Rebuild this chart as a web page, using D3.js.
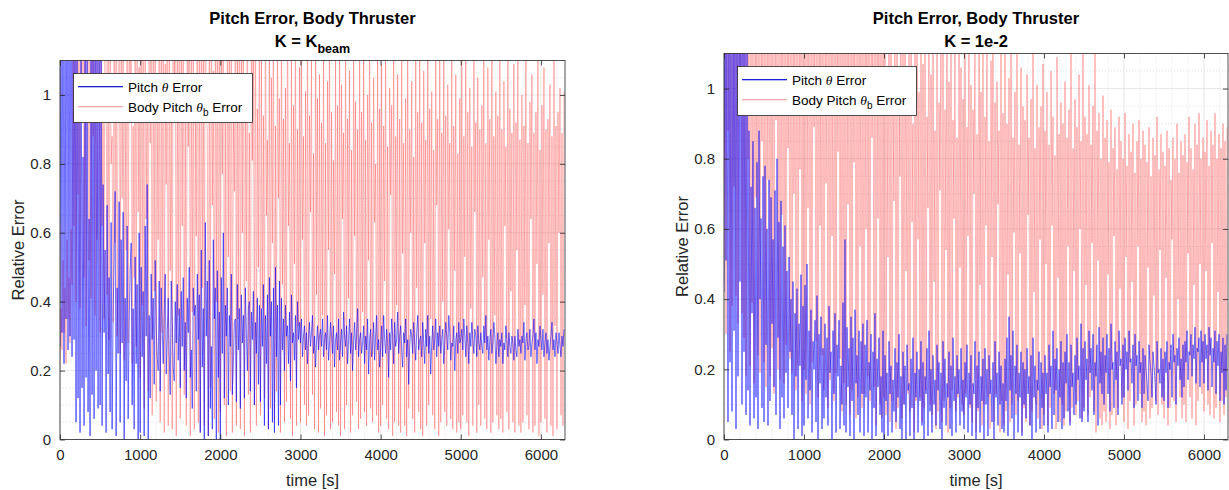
<!DOCTYPE html>
<html><head><meta charset="utf-8">
<script src="https://cdn.jsdelivr.net/npm/d3@7/dist/d3.min.js"></script>
<style>
body{margin:0;background:#fff;}
svg{display:block;font-family:"Liberation Sans",Arial,Helvetica,sans-serif;}
</style>
</head><body>
<svg id="chart" width="1229" height="490"></svg>
<script>
// ---------------- data ----------------
const timeStart = 0;      // s
const timeStep = 12.5;    // s, sampling of the series below
const xDomain = [0, 6300];
const yDomain = [0, 1.1];
const xTicks = [0, 1000, 2000, 3000, 4000, 5000, 6000];
const yTicks = [0, 0.2, 0.4, 0.6, 0.8, 1];
const yTickLabels = ["0", "0.2", "0.4", "0.6", "0.8", "1"];
const titleLine1 = "Pitch Error, Body Thruster";
const xLabel = "time [s]";
const yLabel = "Relative Error";

// K = K_beam
const pitchErrKbeam = [
.27,1.45,.31,1.62,.22,1.38,.35,1.80,.26,1.51,.30,1.70,.24,1.33,.29,1.58,.05,1.42,.12,0.95,
.02,1.36,.15,0.82,.04,1.55,.18,1.24,.08,0.64,.01,1.47,.13,1.30,.06,1.66,.20,1.18,.09,1.52,
.10,1.25,.04,0.74,.31,0.55,.02,0.68,.19,0.47,.08,0.63,.03,0.36,.52,0.72,.01,0.44,.25,0.69,
.05,0.58,.28,0.66,.00,0.41,.17,0.62,.06,0.33,.49,0.57,.10,0.38,.03,0.53,.22,0.45,.00,0.60,
.02,0.50,.24,0.43,.01,0.62,.30,0.74,.00,0.36,.12,0.48,.29,0.41,.16,0.52,.33,0.24,.20,0.46,
.14,0.44,.32,0.22,.37,0.48,.19,0.30,.41,0.25,.13,0.46,.35,0.21,.17,0.40,.28,0.45,.23,0.38,
.15,0.43,.27,0.47,.20,0.34,.12,0.41,.31,0.50,.18,0.26,.09,0.44,.36,0.39,.14,0.48,.29,0.42,
.02,0.55,.21,0.38,.00,0.63,.30,0.46,.01,0.52,.09,0.27,.03,0.58,.35,0.44,.00,0.49,.18,0.37,
.00,0.47,.25,0.60,.12,0.39,.30,0.44,.10,0.36,.27,0.48,.13,0.22,.34,0.35,.11,0.45,.26,0.38,
.09,0.42,.28,0.36,.12,0.44,.31,0.20,.38,0.40,.14,0.37,.29,0.43,.10,0.34,.25,0.41,.16,0.39,
.11,0.38,.27,0.45,.04,0.36,.22,0.42,.03,0.47,.30,0.40,.05,0.44,.02,0.50,.24,0.39,.04,0.46,
.10,0.41,.26,0.35,.20,0.39,.30,0.33,.22,0.37,.17,0.42,.28,0.31,.23,0.36,.15,0.40,.29,0.34,
.28,0.35,.24,0.30,.33,0.26,.31,0.22,.29,0.34,.27,0.31,.36,0.25,.30,0.21,.28,0.33,.26,0.30,
.32,0.27,.35,0.24,.29,0.31,.26,0.36,.23,0.28,.34,0.30,.25,0.33,.21,0.29,.31,0.26,.35,0.23,
.28,0.32,.24,0.37,.30,0.27,.33,0.22,.29,0.35,.25,0.31,.20,0.28,.34,0.26,.30,0.38,.24,0.29,
.31,0.25,.28,0.33,.22,0.30,.26,0.35,.19,0.29,.32,0.24,.27,0.34,.23,0.30,.36,0.26,.29,0.21,
.27,0.33,.24,0.36,.29,0.25,.32,0.28,.18,0.31,.26,0.35,.30,0.22,.34,0.27,.29,0.37,.25,0.30,
.33,0.26,.21,0.31,.28,0.35,.24,0.29,.16,0.27,.32,0.30,.25,0.34,.28,0.23,.31,0.36,.26,0.29,
.30,0.24,.34,0.28,.22,0.32,.27,0.36,.25,0.30,.19,0.28,.33,0.26,.29,0.35,.24,0.31,.27,0.33,
.25,0.29,.32,0.22,.28,0.34,.30,0.26,.36,0.31,.23,0.28,.27,0.33,.20,0.29,.31,0.25,.34,0.28,
.29,0.32,.26,0.35,.30,0.24,.33,0.28,.22,0.31,.27,0.34,.29,0.25,.32,0.30,.24,0.33,.28,0.26,
.31,0.27,.25,0.33,.28,0.36,.26,0.30,.23,0.29,.32,0.25,.28,0.34,.30,0.22,.27,0.31,.24,0.29,
.27,0.31,.22,0.28,.26,0.33,.29,0.24,.31,0.27,.25,0.30,.28,0.23,.30,0.26,.24,0.32,.27,0.29,
.25,0.30,.28,0.34,.23,0.29,.31,0.26,.27,0.32,.24,0.28,.30,0.35,.26,0.31,.22,0.29,.27,0.33,
.29,0.26,.32,0.24,.28,0.31,.25,0.29,.23,0.27,.30,0.34,.26,0.29,.24,0.31,.28,0.25,.31,0.27,
.24,0.30,.27,0.32];

const bodyErrKbeam = [
.20,.38,.26,.52,.31,.44,.22,.58,.35,.47,.28,.61,.45,1.32,.62,1.18,.40,1.55,.71,1.26,
.38,1.44,.95,1.61,.47,1.12,.33,0.97,1.20,.52,1.58,.41,1.26,.88,1.39,.36,1.65,.58,1.03,1.47,
.31,1.28,.62,0.93,.35,1.51,1.10,.42,1.16,.29,1.36,.80,0.88,.34,1.42,.57,1.20,.30,1.02,1.57,
.25,1.31,.70,1.14,.23,0.96,.55,1.49,.28,1.25,.92,1.38,.22,0.91,.47,1.19,.27,1.53,.66,1.08,
.18,1.41,.39,1.23,.09,1.35,.64,0.98,.14,1.60,.86,1.17,.07,1.29,.43,1.44,.11,0.94,.58,1.33,
.05,1.27,.31,1.52,.02,1.09,.74,1.36,.04,1.21,.49,0.92,.03,1.46,1.02,1.30,.01,1.18,.36,1.63,
.06,1.25,.62,1.40,.13,0.99,.04,1.34,.85,1.55,.01,1.12,.37,1.28,.03,0.95,.59,1.43,.05,1.20,
.02,1.37,.44,1.16,.04,1.50,.93,0.90,.01,1.29,.15,1.42,.68,1.07,.06,1.33,.40,1.24,.02,1.58,
.08,1.19,.77,1.45,.10,0.97,.01,1.31,.53,1.26,.14,1.54,.02,0.93,.72,1.38,.04,1.15,.35,1.48,
.03,1.22,.60,1.35,.01,1.04,.46,1.41,.13,0.89,.02,1.28,.81,1.17,.10,1.52,.04,0.96,.50,1.32,
.07,1.13,.38,0.94,.12,1.36,.65,0.87,.03,1.21,.09,1.05,.57,1.30,.06,0.91,.14,1.18,.70,0.99,
.02,1.24,.45,0.93,.05,1.02,.11,1.33,.62,0.86,.06,1.15,.01,0.97,.51,1.27,.04,0.90,.33,1.08,
.05,1.19,.58,0.88,.10,1.01,.04,1.31,.07,0.94,.66,1.12,.13,0.83,.03,1.22,.42,0.99,.02,1.06,
.09,0.92,.36,1.17,.01,0.86,.07,1.04,.55,1.26,.03,0.95,.05,0.81,.48,1.13,.08,0.97,.04,1.20,
.01,1.03,.64,0.89,.03,1.28,.10,0.93,.41,1.07,.02,0.84,.07,1.16,.59,0.98,.11,0.90,.03,1.23,
.06,0.95,.37,1.11,.08,0.87,.04,1.00,.52,1.25,.09,0.92,.05,1.05,.63,0.80,.07,1.14,.02,0.96,
.04,1.09,.10,0.91,.46,1.19,.06,0.85,.03,1.02,.71,0.97,.01,1.27,.05,0.88,.39,1.06,.04,0.93,
.02,1.15,.54,0.86,.04,0.99,.01,1.21,.09,0.90,.60,1.04,.06,0.82,.02,1.12,.44,0.95,.08,1.18,
.03,0.92,.01,1.07,.57,0.87,.04,1.24,.10,0.96,.35,1.01,.07,0.84,.03,1.10,.68,0.93,.01,1.16,
.05,0.89,.40,1.13,.08,0.94,.04,1.03,.61,0.86,.06,1.20,.03,0.91,.49,1.06,.02,0.83,.05,0.99,
.03,1.11,.07,0.88,.53,1.17,.05,0.95,.01,1.02,.38,0.85,.04,1.22,.66,0.92,.02,1.05,.10,0.90,
.04,0.97,.47,1.14,.06,0.86,.03,1.08,.58,0.93,.02,1.19,.05,0.88,.36,1.01,.07,0.94,.03,1.12,
.06,0.90,.02,1.04,.62,0.85,.08,1.16,.03,0.96,.43,0.89,.05,1.09,.02,0.92,.55,1.13,.04,0.87,
.02,1.00,.05,0.91,.39,1.18,.07,0.86,.03,0.98,.64,1.06,.02,0.89,.04,0.95,.51,1.11,.01,0.84,
.05,0.97,.42,1.08,.06,0.90,.02,0.93,.57,1.03,.04,0.88,.01,1.12,.33,0.91,.03,0.95,.60,1.02,
.07,0.89,.04,1.01];

// K = 1e-2
const pitchErrK1e2 = [
.42,1.50,.51,1.38,.05,1.66,.22,1.29,.08,1.55,.31,1.44,.03,1.72,.18,1.35,.45,1.60,.10,1.48,
.25,1.33,.07,1.21,.14,0.88,.04,0.72,.36,0.85,.06,0.66,.12,0.79,.03,0.88,.40,0.63,.09,0.75,
.05,0.78,.27,0.60,.04,0.74,.11,0.69,.33,0.57,.15,0.71,.07,0.80,.29,0.62,.03,0.68,.12,0.55,
.06,0.61,.19,0.48,.09,0.52,.25,0.40,.07,0.45,.00,0.36,.18,0.43,.03,0.33,.21,0.47,.01,0.38,
.04,0.44,.17,0.50,.06,0.31,.14,0.37,.02,0.28,.20,0.34,.05,0.41,.00,0.30,.16,0.35,.03,0.26,
.06,0.33,.12,0.29,.04,0.38,.19,0.25,.00,0.31,.13,0.36,.02,0.27,.18,0.34,.03,0.21,.10,0.39,
.04,0.57,.02,0.32,.15,0.26,.01,0.35,.11,0.29,.00,0.37,.16,0.24,.07,0.31,.02,0.28,.13,0.33,
.01,0.27,.12,0.34,.02,0.22,.14,0.30,.00,0.25,.09,0.36,.01,0.23,.15,0.29,.07,0.18,.02,0.31,
.00,0.24,.11,0.19,.01,0.28,.13,0.21,.02,0.17,.08,0.26,.05,0.22,.12,0.30,.03,0.18,.00,0.25,
.10,0.21,.00,0.27,.14,0.16,.01,0.23,.09,0.29,.00,0.19,.12,0.25,.02,0.20,.11,0.28,.04,0.22,
.00,0.18,.13,0.26,.01,0.31,.08,0.20,.02,0.24,.10,0.17,.04,0.27,.14,0.22,.03,0.19,.00,0.28,
.09,0.23,.04,0.16,.12,0.25,.03,0.21,.01,0.29,.11,0.18,.02,0.24,.13,0.20,.04,0.26,.08,0.17,
.03,0.22,.12,0.27,.02,0.19,.10,0.24,.01,0.16,.13,0.28,.00,0.21,.09,0.25,.02,0.18,.11,0.23,
.00,0.26,.10,0.20,.01,0.24,.13,0.17,.05,0.22,.00,0.28,.12,0.19,.04,0.25,.10,0.21,.03,0.16,
.02,0.23,.11,0.29,.01,0.35,.14,0.24,.06,0.31,.00,0.21,.13,0.27,.02,0.19,.12,0.25,.01,0.22,
.10,0.20,.06,0.26,.13,0.18,.04,0.24,.00,0.29,.12,0.21,.02,0.17,.14,0.25,.03,0.22,.09,0.19,
.04,0.24,.13,0.19,.02,0.27,.15,0.21,.03,0.31,.07,0.23,.14,0.26,.05,0.20,.12,0.28,.03,0.22,
.06,0.25,.16,0.30,.08,0.22,.04,0.27,.15,0.19,.07,0.24,.10,0.29,.17,0.21,.06,0.33,.05,0.26,
.08,0.28,.17,0.23,.05,0.31,.19,0.26,.14,0.30,.07,0.22,.18,0.27,.04,0.32,.16,0.25,.13,0.29,
.10,0.24,.19,0.30,.13,0.26,.08,0.33,.20,0.22,.09,0.28,.17,0.25,.07,0.31,.21,0.23,.10,0.27,
.12,0.29,.20,0.25,.14,0.31,.22,0.23,.16,0.27,.09,0.30,.21,0.24,.11,0.28,.19,0.22,.09,0.26,
.13,0.24,.20,0.16,.11,0.27,.22,0.19,.12,0.25,.21,0.17,.10,0.28,.19,0.20,.16,0.26,.12,0.23,
.11,0.25,.19,0.28,.09,0.22,.20,0.27,.12,0.30,.22,0.24,.10,0.26,.21,0.29,.17,0.23,.12,0.27,
.15,0.28,.22,0.31,.17,0.25,.24,0.30,.18,0.27,.23,0.32,.16,0.26,.25,0.29,.15,0.31,.22,0.28,
.16,0.30,.23,0.27,.14,0.32,.24,0.29,.15,0.26,.22,0.31,.13,0.28,.21,0.30,.11,0.25,.19,0.29,
.10,0.27,.14,0.30];

const bodyErrK1e2 = [
.45,1.40,.30,1.55,.88,1.28,.25,1.66,.38,1.35,.72,1.50,.41,1.72,.33,1.31,.95,1.46,.36,1.60,
.29,1.37,.18,1.52,.80,1.25,.21,1.63,.39,1.19,.16,1.44,.69,1.30,.24,1.58,.19,1.26,.85,1.41,
.22,1.48,.15,1.21,.74,1.57,.18,1.34,.26,1.15,.13,1.43,.91,1.62,.20,1.27,.17,1.39,.64,1.53,
.16,1.32,.27,1.45,.83,1.20,.23,1.56,.19,1.29,.70,1.37,.14,1.61,.21,1.24,.77,1.50,.11,1.33,
.20,1.42,.13,1.18,.66,1.55,.10,1.31,.22,1.46,.89,1.23,.28,1.38,.12,1.60,.61,1.27,.24,1.49,
.14,1.35,.73,1.22,.09,1.51,.17,1.40,.58,1.16,.11,1.44,.19,1.29,.82,1.58,.23,1.25,.08,1.36,
.16,1.47,.10,1.20,.67,1.34,.07,1.53,.14,1.28,.79,1.41,.06,1.17,.12,1.49,.55,1.32,.09,1.24,
.13,1.38,.60,1.55,.18,1.26,.11,1.43,.86,1.21,.15,1.60,.04,1.30,.63,1.45,.10,1.19,.06,1.37,
.12,1.29,.07,0.98,.52,1.42,.05,1.15,.11,0.93,.68,1.36,.03,1.22,.09,1.03,.75,1.48,.06,1.12,
.10,1.33,.48,0.95,.13,1.25,.08,1.41,.62,0.90,.02,1.18,.11,1.37,.57,0.99,.12,1.28,.05,1.07,
.09,1.20,.14,0.92,.66,1.39,.10,1.04,.07,1.26,.45,0.88,.03,1.31,.08,0.96,.71,1.16,.05,1.35,
.11,0.94,.54,1.24,.02,1.02,.09,1.40,.14,0.91,.63,1.17,.08,0.86,.12,1.29,.49,1.06,.10,0.97,
.07,1.22,.13,0.89,.58,1.33,.09,1.01,.05,0.94,.70,1.19,.02,0.87,.08,1.27,.44,0.99,.04,1.13,
.10,0.92,.61,1.21,.12,0.85,.03,1.08,.52,1.30,.05,0.96,.13,1.02,.67,0.88,.02,1.25,.11,0.93,
.04,1.16,.08,0.90,.47,1.03,.05,1.23,.10,0.86,.59,0.99,.07,1.14,.11,0.84,.53,1.06,.02,0.95,
.09,0.91,.05,1.04,.64,0.86,.04,0.97,.08,1.12,.42,0.83,.10,1.01,.06,0.89,.57,0.95,.03,1.07,
.07,0.88,.50,0.99,.04,0.84,.09,1.05,.61,0.92,.13,0.81,.03,1.09,.46,0.87,.05,0.96,.10,0.90,
.04,1.02,.08,0.86,.55,0.94,.05,1.13,.09,0.83,.48,0.97,.07,0.89,.11,1.04,.60,0.85,.06,1.18,
.09,0.92,.44,0.87,.07,1.01,.12,0.84,.56,0.95,.08,1.15,.02,0.88,.51,0.93,.06,0.80,.04,0.98,
.08,0.86,.05,0.91,.47,0.79,.03,0.94,.07,0.83,.58,0.89,.04,0.77,.09,0.92,.43,0.85,.12,0.80,
.05,0.93,.52,0.78,.03,0.87,.11,0.82,.45,0.90,.04,0.76,.10,0.85,.55,0.91,.13,0.80,.05,0.88,
.08,0.84,.04,0.79,.49,0.89,.06,0.75,.09,0.86,.41,0.81,.11,0.92,.07,0.77,.54,0.87,.10,0.82,
.06,0.78,.46,0.88,.04,0.83,.09,0.74,.57,0.86,.11,0.80,.05,0.90,.40,0.76,.12,0.85,.06,0.81,
.10,0.87,.05,0.79,.53,0.92,.12,0.83,.06,0.77,.44,0.90,.04,0.84,.11,0.93,.50,0.80,.13,0.86,
.08,0.82,.48,0.91,.10,0.78,.07,0.88,.56,0.84,.06,0.93,.09,0.80,.42,0.87,.05,0.83,.11,0.90,
.07,0.85,.12,0.89];

// ---------------- drawing ----------------
const svg = d3.select("#chart");
const INK = "#262626";
const BLUE = "rgba(0,0,255,0.62)";
const RED = "rgba(255,0,0,0.30)";

const panels = [
  {id: "L", left: 60, right: 565, top: 60.5, bottom: 439.5, sub: "K = K", subScript: "beam",
   pitch: pitchErrKbeam, body: bodyErrKbeam},
  {id: "R", left: 724, right: 1228, top: 53.5, bottom: 439.5, sub: "K = 1e-2", subScript: null,
   pitch: pitchErrK1e2, body: bodyErrK1e2}
];

panels.forEach(p => {
  const x = d3.scaleLinear().domain(xDomain).range([p.left, p.right]);
  const y = d3.scaleLinear().domain(yDomain).range([p.bottom, p.top]);
  const g = svg.append("g");

  svg.append("clipPath").attr("id", "clip" + p.id)
    .append("rect").attr("x", p.left).attr("y", p.top)
    .attr("width", p.right - p.left).attr("height", p.bottom - p.top);

  // minor grid
  const minorX = d3.range(0, xDomain[1] + 1, 200).filter(v => v % 1000 !== 0);
  const minorY = d3.range(0, 23).map(i => i * 0.05).filter(v => Math.abs(v / 0.2 - Math.round(v / 0.2)) > 1e-6);
  g.selectAll(null).data(minorX).enter().append("line")
    .attr("x1", d => x(d)).attr("x2", d => x(d)).attr("y1", p.top).attr("y2", p.bottom)
    .attr("stroke", "#cfcfcf").attr("stroke-width", 0.6).attr("stroke-dasharray", "1,2");
  g.selectAll(null).data(minorY).enter().append("line")
    .attr("x1", p.left).attr("x2", p.right).attr("y1", d => y(d)).attr("y2", d => y(d))
    .attr("stroke", "#cfcfcf").attr("stroke-width", 0.6).attr("stroke-dasharray", "1,2");
  // major grid
  g.selectAll(null).data(xTicks).enter().append("line")
    .attr("x1", d => x(d)).attr("x2", d => x(d)).attr("y1", p.top).attr("y2", p.bottom)
    .attr("stroke", "#dedede").attr("stroke-width", 0.7);
  g.selectAll(null).data(yTicks).enter().append("line")
    .attr("x1", p.left).attr("x2", p.right).attr("y1", d => y(d)).attr("y2", d => y(d))
    .attr("stroke", "#dedede").attr("stroke-width", 0.7);

  // data
  const line = d3.line().x((d, i) => x(timeStart + i * timeStep)).y(d => y(d));
  const dg = g.append("g").attr("clip-path", `url(#clip${p.id})`);
  dg.append("path").datum(p.body).attr("d", line)
    .attr("fill", "none").attr("stroke", RED).attr("stroke-width", 0.9);
  dg.append("path").datum(p.pitch).attr("d", line)
    .attr("fill", "none").attr("stroke", BLUE).attr("stroke-width", 0.9);

  // box
  g.append("rect").attr("x", p.left).attr("y", p.top)
    .attr("width", p.right - p.left).attr("height", p.bottom - p.top)
    .attr("fill", "none").attr("stroke", INK).attr("stroke-width", 0.8);

  // axes (ticks inside)
  const xAxis = d3.axisBottom(x).tickValues(xTicks).tickSize(-5).tickPadding(10).tickFormat(d3.format("d"));
  const xa = g.append("g").attr("transform", `translate(0,${p.bottom})`).call(xAxis);
  const xTop = d3.axisTop(x).tickValues(xTicks).tickSize(-5).tickFormat("");
  const xt = g.append("g").attr("transform", `translate(0,${p.top})`).call(xTop);
  const yAxis = d3.axisLeft(y).tickValues(yTicks).tickSize(-5).tickPadding(9)
    .tickFormat((d, i) => yTickLabels[i]);
  const ya = g.append("g").attr("transform", `translate(${p.left},0)`).call(yAxis);
  const yRight = d3.axisRight(y).tickValues(yTicks).tickSize(-5).tickFormat("");
  const yr = g.append("g").attr("transform", `translate(${p.right},0)`).call(yRight);
  [xa, xt, ya, yr].forEach(a => {
    a.select(".domain").remove();
    a.selectAll(".tick line").attr("stroke", INK).attr("stroke-width", 0.8);
    a.selectAll(".tick text").attr("fill", INK).style("font-size", "15px")
      .style("font-family", '"Liberation Sans",Arial,sans-serif');
  });

  // axis labels
  const cx = (p.left + p.right) / 2;
  g.append("text").attr("x", cx).attr("y", 486).attr("text-anchor", "middle")
    .attr("fill", INK).style("font-size", "16.5px").text(xLabel);
  g.append("text").attr("transform", `translate(${p.left - 36},${(p.top + p.bottom) / 2}) rotate(-90)`)
    .attr("text-anchor", "middle").attr("fill", INK).style("font-size", "16.5px").text(yLabel);

  // title
  g.append("text").attr("x", cx).attr("y", 24).attr("text-anchor", "middle")
    .attr("fill", "#000").style("font-size", "16.5px").style("font-weight", "bold").text(titleLine1);
  const t2 = g.append("text").attr("x", cx).attr("y", 46.5).attr("text-anchor", "middle")
    .attr("fill", "#000").style("font-size", "16.5px").style("font-weight", "bold");
  t2.append("tspan").text(p.sub);
  if (p.subScript) t2.append("tspan").attr("dy", 6).style("font-size", "12.5px").text(p.subScript);

  // legend
  const lx = p.left + 13, ly = Math.round(p.top + 12) + 0.5, lw = 179, lh = 49;
  const lg = g.append("g");
  lg.append("rect").attr("x", lx + 0.5).attr("y", ly).attr("width", lw).attr("height", lh)
    .attr("fill", "#fff").attr("stroke", INK).attr("stroke-width", 0.8);
  const rowColors = ["#1f1fd6", "#f4a9a9"];
  rowColors.forEach((c, i) => {
    const yy = Math.round(ly + 12 + i * 20);
    lg.append("rect").attr("x", lx + 5).attr("y", yy).attr("width", 45).attr("height", 1.3)
      .attr("fill", c);
    const tx = lg.append("text").attr("x", lx + 55).attr("y", yy + 5.5).attr("fill", "#000")
      .style("font-size", "13.5px");
    if (i === 0) {
      tx.append("tspan").text("Pitch ");
      tx.append("tspan").style("font-style", "italic").style("font-family", '"Liberation Serif",serif').text("θ");
      tx.append("tspan").text(" Error");
    } else {
      tx.append("tspan").text("Body Pitch ");
      tx.append("tspan").style("font-style", "italic").style("font-family", '"Liberation Serif",serif').text("θ");
      tx.append("tspan").attr("dy", 4).style("font-size", "10px").text("b");
      tx.append("tspan").attr("dy", -4).text(" Error");
    }
  });
});
</script>
</body></html>
